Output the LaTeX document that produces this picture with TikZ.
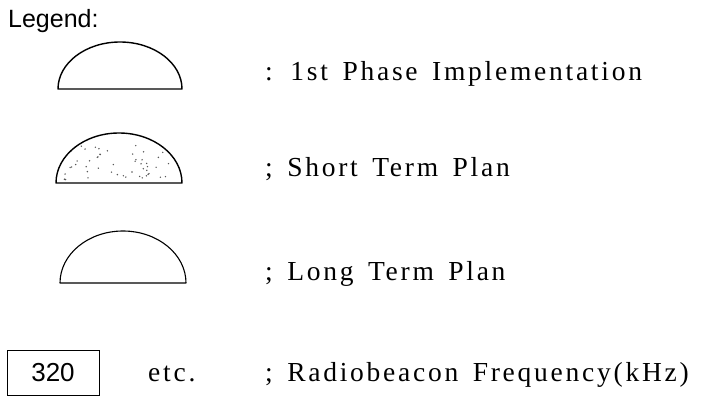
\documentclass[tikz,border=0pt]{standalone}
\usepackage{fontspec}
\setmainfont{Liberation Serif}
\newfontfamily\legendsans{Liberation Sans}
\newfontfamily\spacedserif[LetterSpace=10,WordSpace=1.5]{Liberation Serif}
\begin{document}
\begin{tikzpicture}[x=1pt,y=1pt,
  dome/.style={line width=1.4pt, line join=round},
  keytext/.style={anchor=base west, inner sep=0pt, font=\spacedserif\fontsize{27.5}{31}\selectfont},
  headtext/.style={anchor=base west, inner sep=0pt, font=\legendsans\fontsize{25}{30}\selectfont},
  freqbox/.style={draw, line width=0.9pt, minimum width=92pt, minimum height=45pt, inner sep=0pt,
                  font=\legendsans\fontsize{26}{30}\selectfont}
]
\useasboundingbox (0,0) rectangle (724,-404);

% heading
\node[headtext] (head) at (8,-28) {Legend:};

% 1st phase symbol
\draw[dome] (58,-89) arc[start angle=180, end angle=0, x radius=62, y radius=47] -- cycle;
\node[keytext] (k1) at (265,-81) {: 1st Phase Implementation};

% short term symbol, speckled
\begin{scope}
  \clip (56,-183) arc[start angle=180, end angle=0, x radius=63, y radius=50] -- cycle;
  \pgfmathsetseed{4211}
  \foreach \i in {1,...,55}{
    \fill[black!65] ({119+58*rand},{-180+36*rnd}) circle (0.8pt);
  }
\end{scope}
\draw[dome] (56,-183) arc[start angle=180, end angle=0, x radius=63, y radius=50] -- cycle;
\node[keytext] (k2) at (265,-176) {; Short Term Plan};

% long term symbol
\draw[dome, line width=1.1pt] (60,-283) arc[start angle=180, end angle=0, x radius=63, y radius=52] -- cycle;
\node[keytext] (k3) at (265,-280) {; Long Term Plan};

% radiobeacon frequency box
\node[freqbox] (f) at (53,-372.5) {320};
\node[keytext] (etc) at (148,-381) {etc.};
\node[keytext] (k4) at (265,-381) {; Radiobeacon Frequency(kHz)};
\end{tikzpicture}
\end{document}
